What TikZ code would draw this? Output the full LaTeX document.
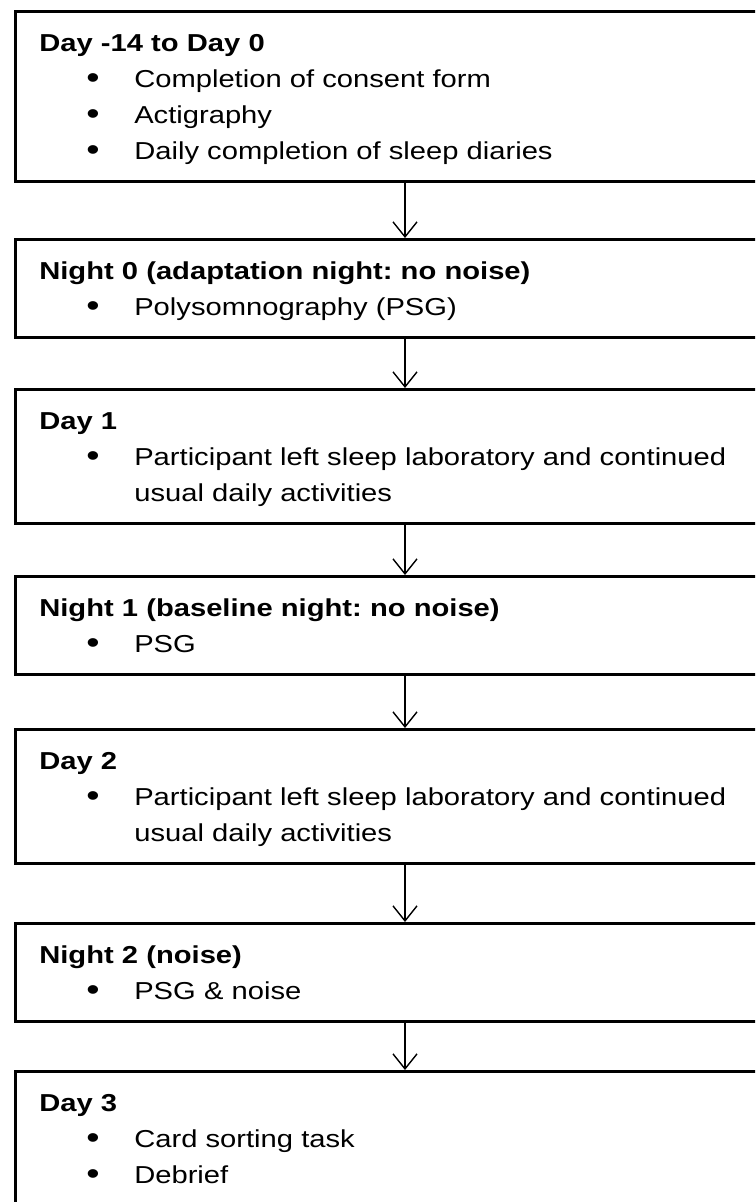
\documentclass[tikz,border=0pt]{standalone}
\usepackage{fontspec}
\setmainfont{Liberation Sans}[FakeStretch=1.19]
\usetikzlibrary{arrows.meta}
\frenchspacing

% first and last line struts, bullet item
\newcommand{\firstln}{\rule{0pt}{40pt}}
\newcommand{\lastln}{\rule[-22pt]{0pt}{22pt}}
\newcommand{\itm}{\hspace*{47pt}\makebox[48pt][l]{\raisebox{-1.2pt}{\scalebox{1.3}{\textbullet}}}}
\newcommand{\cont}{\hspace*{95pt}}

\tikzset{
  stage/.style={draw, line width=2.6pt, rectangle, anchor=north west,
    text width=760pt, align=left, inner xsep=24pt, inner ysep=0pt,
    font=\fontsize{24.5}{36}\selectfont},
  flow/.style={line width=1.4pt, -{Straight Barb[length=15pt,width=24pt,line width=1.4pt]}}
}

\begin{document}
\begin{tikzpicture}[x=1pt,y=1pt]
  \useasboundingbox (0,0) rectangle (755,-1202);
  \clip (0,0) rectangle (755,-1202);

  \node[stage] (pre) at (14,-10) {\firstln\textbf{Day -14 to Day 0}\\
    \strut\itm Completion of consent form\\
    \strut\itm Actigraphy\\
    \strut\itm Daily completion of sleep diaries\lastln};

  \node[stage] (n0) at (14,-238) {\firstln\textbf{Night 0 (adaptation night: no noise)}\\
    \strut\itm Polysomnography (PSG)\lastln};

  \node[stage] (d1) at (14,-388) {\firstln\textbf{Day 1}\\
    \strut\itm Participant left sleep laboratory and continued\\
    \strut\cont usual daily activities\lastln};

  \node[stage] (n1) at (14,-575) {\firstln\textbf{Night 1 (baseline night: no noise)}\\
    \strut\itm PSG\lastln};

  \node[stage] (d2) at (14,-728) {\firstln\textbf{Day 2}\\
    \strut\itm Participant left sleep laboratory and continued\\
    \strut\cont usual daily activities\lastln};

  \node[stage] (n2) at (14,-922) {\firstln\textbf{Night 2 (noise)}\\
    \strut\itm PSG \& noise\lastln};

  \node[stage] (d3) at (14,-1070) {\firstln\textbf{Day 3}\\
    \strut\itm Card sorting task\\
    \strut\itm Debrief\lastln};

  % arrows between stages
  \draw[flow] ([xshift=391]pre.south west) -- ([xshift=391]n0.north west);
  \draw[flow] ([xshift=391]n0.south west) -- ([xshift=391]d1.north west);
  \draw[flow] ([xshift=391]d1.south west) -- ([xshift=391]n1.north west);
  \draw[flow] ([xshift=391]n1.south west) -- ([xshift=391]d2.north west);
  \draw[flow] ([xshift=391]d2.south west) -- ([xshift=391]n2.north west);
  \draw[flow] ([xshift=391]n2.south west) -- ([xshift=391]d3.north west);
\end{tikzpicture}
\end{document}
